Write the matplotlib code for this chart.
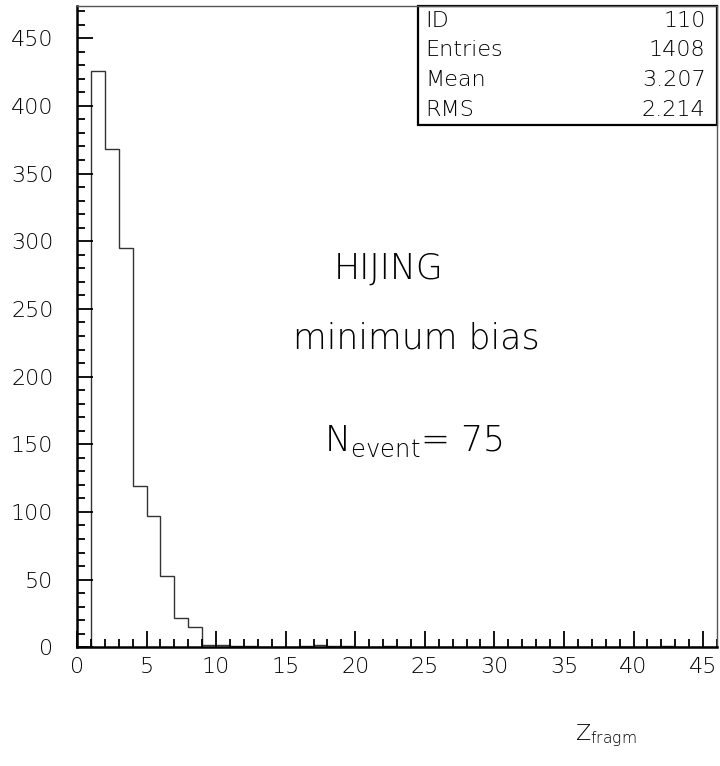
import matplotlib
matplotlib.use("Agg")
import matplotlib.pyplot as plt
import numpy as np
from matplotlib.ticker import MultipleLocator

# histogram contents, bins of width 1 starting at Z = 1
bin_edges = np.arange(1, 47)
counts = [426, 368, 295, 119, 97, 53, 22, 15, 2, 2,
          1, 1, 0, 0, 0, 1, 2, 1, 1, 0,
          0, 1, 0, 0, 0, 0, 0, 0, 0, 0,
          0, 0, 0, 0, 0, 0, 0, 0, 0, 0,
          0, 1, 0, 0, 0]

stat_names = ["ID", "Entries", "Mean", "RMS"]
stat_values = ["110", "1408", "3.207", "2.214"]

plt.rcParams["font.family"] = ["DejaVu Sans"]
plt.rcParams["font.weight"] = "light"

fig = plt.figure(figsize=(7.2, 7.66), dpi=100)
ax = fig.add_axes([77 / 720, 118.7 / 766, 640 / 720, 641.6 / 766])

ax.stairs(counts, bin_edges, color="#333333", linewidth=1.0)

ax.set_xlim(0, 46)
ax.set_ylim(0, 474)
ax.xaxis.set_major_locator(MultipleLocator(5))
ax.xaxis.set_minor_locator(MultipleLocator(1))
ax.yaxis.set_major_locator(MultipleLocator(50))
ax.yaxis.set_minor_locator(MultipleLocator(10))
ax.tick_params(which="both", direction="in", top=False, right=False,
               width=1.3, color="black", labelsize=16)
ax.tick_params(which="major", length=11.5)
ax.tick_params(which="minor", length=5.8)
ax.tick_params(axis="y", pad=17)
ax.tick_params(axis="x", pad=7)

for side in ["left", "bottom"]:
    ax.spines[side].set_linewidth(1.8)
for side in ["top", "right"]:
    ax.spines[side].set_linewidth(1.0)
    ax.spines[side].set_color("#555555")

# statistics box in the upper right corner
x0 = (418 - 77) / 640
y0 = (647.3 - 125) / 641.6
ax.add_patch(plt.Rectangle((x0, y0), 1 - x0, 1 - y0, transform=ax.transAxes,
                           fill=False, edgecolor="black", linewidth=1.6,
                           clip_on=False))
row_h = (1 - y0) / len(stat_names)
for i, (name, val) in enumerate(zip(stat_names, stat_values)):
    yc = 1 - (i + 0.5) * row_h
    ax.text(x0 + 0.011, yc, name, transform=ax.transAxes, ha="left",
            va="center", fontsize=16)
    ax.text(0.982, yc, val, transform=ax.transAxes, ha="right",
            va="center", fontsize=16)

ax.text(22.4, 280, "HIJING", ha="center", va="center", fontsize=25)
ax.text(24.4, 228, "minimum bias", ha="center", va="center", fontsize=25)
ax.text(24.2, 152, r"N$_{\mathregular{event}}$= 75", ha="center",
        va="center", fontsize=25)

fig.text(606 / 720, 1 - 736 / 766, r"Z$_{\mathregular{fragm}}$",
         ha="center", va="center", fontsize=16)

fig.savefig("out.png", dpi=100)
